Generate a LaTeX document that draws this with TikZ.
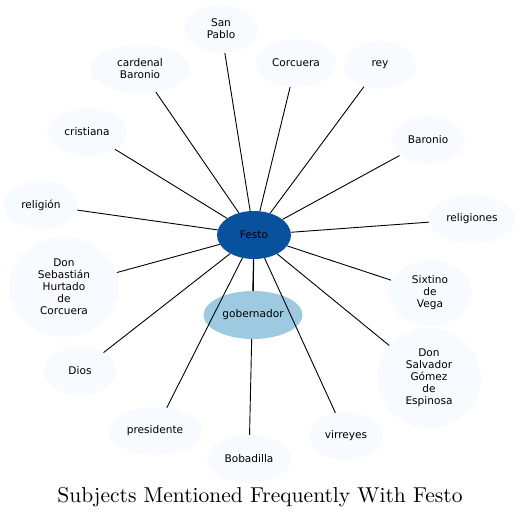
\documentclass[tikz,border=0pt]{standalone}
\usepackage{fontspec}
\setsansfont{DejaVu Sans}
\newfontfamily\titlefont{lmroman10-regular.otf}
\usetikzlibrary{shapes.geometric,backgrounds}
\definecolor{leafc}{HTML}{F7FBFF}
\definecolor{hubc}{HTML}{08519C}
\definecolor{midc}{HTML}{9ECAE1}
\begin{document}
\begin{tikzpicture}[x=1bp,y=-1bp,
  bub/.style={ellipse, inner sep=0pt, align=center, font=\sffamily\fontsize{10.6}{12}\selectfont, minimum height=48bp},
  leaf/.style={bub, fill=leafc},
  link/.style={draw=black, line width=0.9bp}]
\useasboundingbox (0,0) rectangle (521,520);
\node[bub, fill=hubc, minimum width=74bp] (festo) at (254,235) {Festo};
\node[bub, fill=midc, minimum width=99bp] (gob) at (253,315) {gobernador};
\node[leaf, minimum width=74bp] (sanpablo) at (221,29) {San\\Pablo};
\node[leaf, minimum width=100bp] (cardenal) at (140,69) {cardenal\\Baronio};
\node[leaf, minimum width=80bp] (corcuera) at (296,63) {Corcuera};
\node[leaf, minimum width=72bp] (rey) at (380,65) {rey};
\node[leaf, minimum width=80bp] (cristiana) at (87,132) {cristiana};
\node[leaf, minimum width=74bp] (baronio) at (428,140) {Baronio};
\node[leaf, minimum width=74bp] (religion) at (41,205) {religión};
\node[leaf, minimum width=86bp] (religiones) at (472,219) {religiones};
\node[leaf, minimum width=110bp, minimum height=100bp] (sebastian) at (64,287) {Don\\Sebastián\\Hurtado\\de\\Corcuera};
\node[leaf, minimum width=84bp, minimum height=66bp] (sixtino) at (430,293) {Sixtino\\de\\Vega};
\node[leaf, minimum width=104bp, minimum height=100bp] (salvador) at (429,378) {Don\\Salvador\\Gómez\\de\\Espinosa};
\node[leaf, minimum width=72bp] (dios) at (80,371) {Dios};
\node[leaf, minimum width=94bp] (presidente) at (155,431) {presidente};
\node[leaf, minimum width=84bp] (bobadilla) at (249,459) {Bobadilla};
\node[leaf, minimum width=74bp] (virreyes) at (346,436) {virreyes};
\node[font=\titlefont\fontsize{21.6}{25}\selectfont, inner sep=0pt] (title) at (260,497) {Subjects Mentioned Frequently With Festo};
\foreach \n in {gob,sanpablo,cardenal,corcuera,rey,cristiana,baronio,religion,religiones,sebastian,sixtino,salvador,dios,presidente,virreyes}
  \draw[link] (festo) -- (\n);
\begin{scope}[on background layer]
  \draw[link] (festo) -- (bobadilla);
\end{scope}
\end{tikzpicture}
\end{document}
